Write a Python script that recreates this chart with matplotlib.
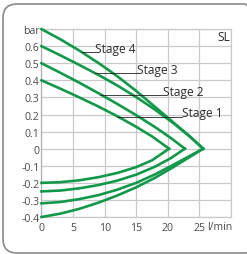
import matplotlib
matplotlib.use("Agg")
from matplotlib import pyplot as plt
from matplotlib.patches import FancyBboxPatch
from matplotlib.transforms import IdentityTransform

plt.rcParams['font.family'] = ['Open Sans', 'DejaVu Sans']

# pressure side (upper curves), flow l/min vs bar
st1_up_x = [0, 3, 6, 9, 12, 15, 17.5, 20.2]
st1_up_y = [0.40, 0.351, 0.300, 0.247, 0.190, 0.128, 0.072, 0.0]
st2_up_x = [0, 3, 6, 9, 12, 15, 18, 20.5, 22.7]
st2_up_y = [0.50, 0.444, 0.386, 0.325, 0.262, 0.196, 0.126, 0.062, 0.0]
st3_up_x = [0, 3, 6, 9, 12, 15, 18, 21, 23.5, 25.6]
st3_up_y = [0.60, 0.546, 0.490, 0.432, 0.370, 0.302, 0.228, 0.146, 0.070, 0.0]
st4_up_x = [0, 3, 6, 9, 12, 15, 18, 21, 23.5, 25.6]
st4_up_y = [0.70, 0.640, 0.574, 0.502, 0.424, 0.338, 0.244, 0.150, 0.072, 0.0]

# vacuum side (lower curves)
st1_lo_x = [0, 3, 6, 9, 12, 15, 17.5, 20.2]
st1_lo_y = [-0.20, -0.196, -0.185, -0.167, -0.142, -0.108, -0.068, 0.0]
st2_lo_x = [0, 3, 6, 9, 12, 15, 18, 20.5, 22.7]
st2_lo_y = [-0.25, -0.245, -0.232, -0.213, -0.187, -0.152, -0.105, -0.055, 0.0]
st3_lo_x = [0, 3, 6, 9, 12, 15, 18, 21, 23.5, 25.6]
st3_lo_y = [-0.32, -0.312, -0.295, -0.272, -0.240, -0.200, -0.150, -0.092, -0.042, 0.0]
st4_lo_x = [0, 3, 6, 9, 12, 15, 18, 21, 23.5, 25.6]
st4_lo_y = [-0.40, -0.380, -0.352, -0.316, -0.274, -0.226, -0.170, -0.105, -0.048, 0.0]

stages = ['Stage 1', 'Stage 2', 'Stage 3', 'Stage 4']
# leader lines: start x, end x, y
lead_x0 = [11.95, 9.25, 8.5, 6.4]
lead_x1 = [22.2, 19.2, 15.1, 8.45]
lead_y = [0.188, 0.312, 0.441, 0.563]

xticks = [0, 5, 10, 15, 20, 25, 30]
xlabels = ['0', '5', '10', '15', '20', '25', '']
yticks = [-0.4, -0.3, -0.2, -0.1, 0, 0.1, 0.2, 0.3, 0.4, 0.5, 0.6, 0.7]
ylabels = ['-0.4', '-0.3', '-0.2', '-0.1', '0', '0.1', '0.2', '0.3', '0.4', '0.5', '0.6', 'bar']

green = '#12984a'
grid_c = '#c9c9c9'
txt_c = '#4a4a4a'

fig = plt.figure(figsize=(2.47, 2.55), dpi=100)
ax = fig.add_axes([0.168, 0.145, 0.767, 0.737])

# rounded outer frame, drawn in pixels
frame = FancyBboxPatch((3, 1), 256, 249, boxstyle="round,pad=0,rounding_size=14",
                       transform=IdentityTransform(), fill=False,
                       ec='#8a8a8a', lw=1.2)
fig.patches.append(frame)

for xs, ys in [(st1_up_x, st1_up_y), (st2_up_x, st2_up_y), (st3_up_x, st3_up_y),
               (st4_up_x, st4_up_y), (st1_lo_x, st1_lo_y), (st2_lo_x, st2_lo_y),
               (st3_lo_x, st3_lo_y), (st4_lo_x, st4_lo_y)]:
    ax.plot(xs, ys, color=green, lw=1.9, solid_joinstyle='miter', clip_on=False, zorder=3)

for i in range(len(stages)):
    ax.plot([lead_x0[i], lead_x1[i]], [lead_y[i], lead_y[i]], color='#222222', lw=0.6, zorder=4)
    ax.text(lead_x1[i], lead_y[i] + 0.004, stages[i], fontsize=8.6, color='#2a2a2a',
            ha='left', va='baseline', zorder=5)

ax.text(28.9, 0.655, 'SL', fontsize=8.6, color='#2a2a2a', ha='center', va='center')

ax.set_xlim(0, 30)
ax.set_ylim(-0.4, 0.7)
ax.set_xticks(xticks)
ax.set_xticklabels(xlabels)
ax.set_yticks(yticks)
ax.set_yticklabels(ylabels)
ax.tick_params(length=0, labelsize=7.6, labelcolor=txt_c)
ax.tick_params(axis='y', pad=1.5)
ax.tick_params(axis='x', pad=3.5)
ax.grid(True, color=grid_c, lw=0.9)
ax.set_axisbelow(True)
for s in ax.spines.values():
    s.set_color(grid_c)
    s.set_linewidth(0.9)
ax.spines['left'].set_color('#b0b0b0')

ax.text(26.2, -0.4 - 0.025, 'l/min', fontsize=7.6, color=txt_c, ha='left', va='top')

fig.savefig('out.png', dpi=100)
